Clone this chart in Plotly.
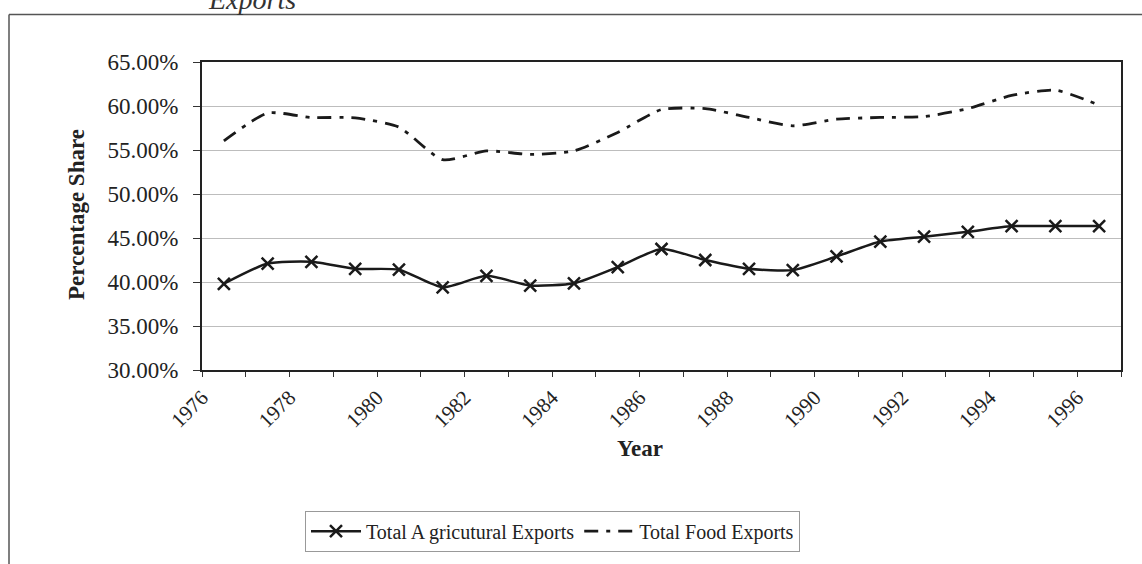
import plotly.graph_objects as go

years = list(range(1976, 1997))
agri = [39.8, 42.1, 42.3, 41.5, 41.4, 39.4, 40.7, 39.6, 39.85, 41.7, 43.75,
        42.5, 41.5, 41.35, 42.9, 44.6, 45.15, 45.7, 46.35, 46.35, 46.35]
food = [56.05, 59.2, 58.7, 58.65, 57.6, 53.9, 54.9, 54.5, 54.9, 57.0, 59.6,
        59.7, 58.7, 57.75, 58.5, 58.7, 58.8, 59.7, 61.2, 61.8, 60.1]
tick_labels = [str(y) for y in range(1976, 1997, 2)]
y_ticks = [30, 35, 40, 45, 50, 55, 60, 65]

W, H = 1142, 564
L, R, T, B = 202, 1121, 62, 373
pw, ph = R - L, B - T

def px(x):
    return (x - L) / pw

def py(y):
    return (B - y) / ph

serif = "Liberation Serif"

fig = go.Figure()
fig.add_trace(go.Scatter(
    x=years, y=agri, name="Total A gricutural Exports",
    mode="lines+markers", line=dict(color="#1a1a1a", width=2.5, shape="spline", smoothing=0.6),
    marker=dict(symbol="x-thin", size=12, line=dict(color="#1a1a1a", width=2.5)),
))
fig.add_trace(go.Scatter(
    x=years, y=food, name="Total Food Exports",
    mode="lines", line=dict(color="#1a1a1a", width=2.8, shape="spline", smoothing=0.6,
                            dash="14px,8px,4px,8px"),
))

tickvals = [y - 0.5 for y in years] + [years[-1] + 0.5]
ticktext = []
for y in years:
    s = str(y)
    ticktext.append(s if s in tick_labels else "")
ticktext.append("")

fig.update_layout(
    width=W, height=H,
    margin=dict(l=L, r=W - R, t=T, b=H - B),
    paper_bgcolor="white", plot_bgcolor="white",
    font=dict(family=serif, color="#222222"),
    showlegend=True,
    legend=dict(orientation="h", x=px(305), y=py(515), xanchor="left", yanchor="top",
                bordercolor="#999999", borderwidth=1, font=dict(size=20, family=serif),
                itemwidth=50, bgcolor="white", tracegroupgap=0),
    xaxis=dict(range=[1975.5, 1996.5], tickmode="array", tickvals=tickvals, ticktext=ticktext,
               tickangle=-45, ticks="outside", ticklen=5, tickcolor="#333333",
               showgrid=False, zeroline=False, showline=True, linecolor="#222222",
               linewidth=2, mirror=True, tickfont=dict(size=21, family=serif)),
    yaxis=dict(range=[30, 65], tickmode="array", tickvals=y_ticks,
               ticktext=[f"{v:.2f}%" for v in y_ticks],
               ticks="outside", ticklen=7, tickcolor="#333333", ticklabelstandoff=10,
               showgrid=True, gridcolor="#bdbdbd", gridwidth=1, zeroline=False,
               showline=True, linecolor="#222222", linewidth=2, mirror=True,
               tickfont=dict(size=23, family=serif)),
    shapes=[
        dict(type="line", xref="paper", yref="paper", x0=px(9), x1=px(1150), y0=py(14), y1=py(14),
             line=dict(color="#555555", width=1.5)),
        dict(type="line", xref="paper", yref="paper", x0=px(9), x1=px(9), y0=py(14), y1=py(570),
             line=dict(color="#555555", width=1.5)),
    ],
    annotations=[
        dict(text="<b>Percentage Share</b>", x=px(62), y=py(216), xref="paper", yref="paper",
             textangle=-90, showarrow=False, font=dict(size=23, family=serif, color="#222222")),
        dict(text="<b>Year</b>", x=px(640), y=py(467), xref="paper", yref="paper",
             showarrow=False, font=dict(size=23, family=serif, color="#222222")),
        dict(text="<i>Exports</i>", x=px(252), y=py(-1), xref="paper", yref="paper",
             xanchor="center", yanchor="middle",
             showarrow=False, font=dict(size=28, family=serif, color="#333333")),
    ],
)

fig.write_html("out.html")
